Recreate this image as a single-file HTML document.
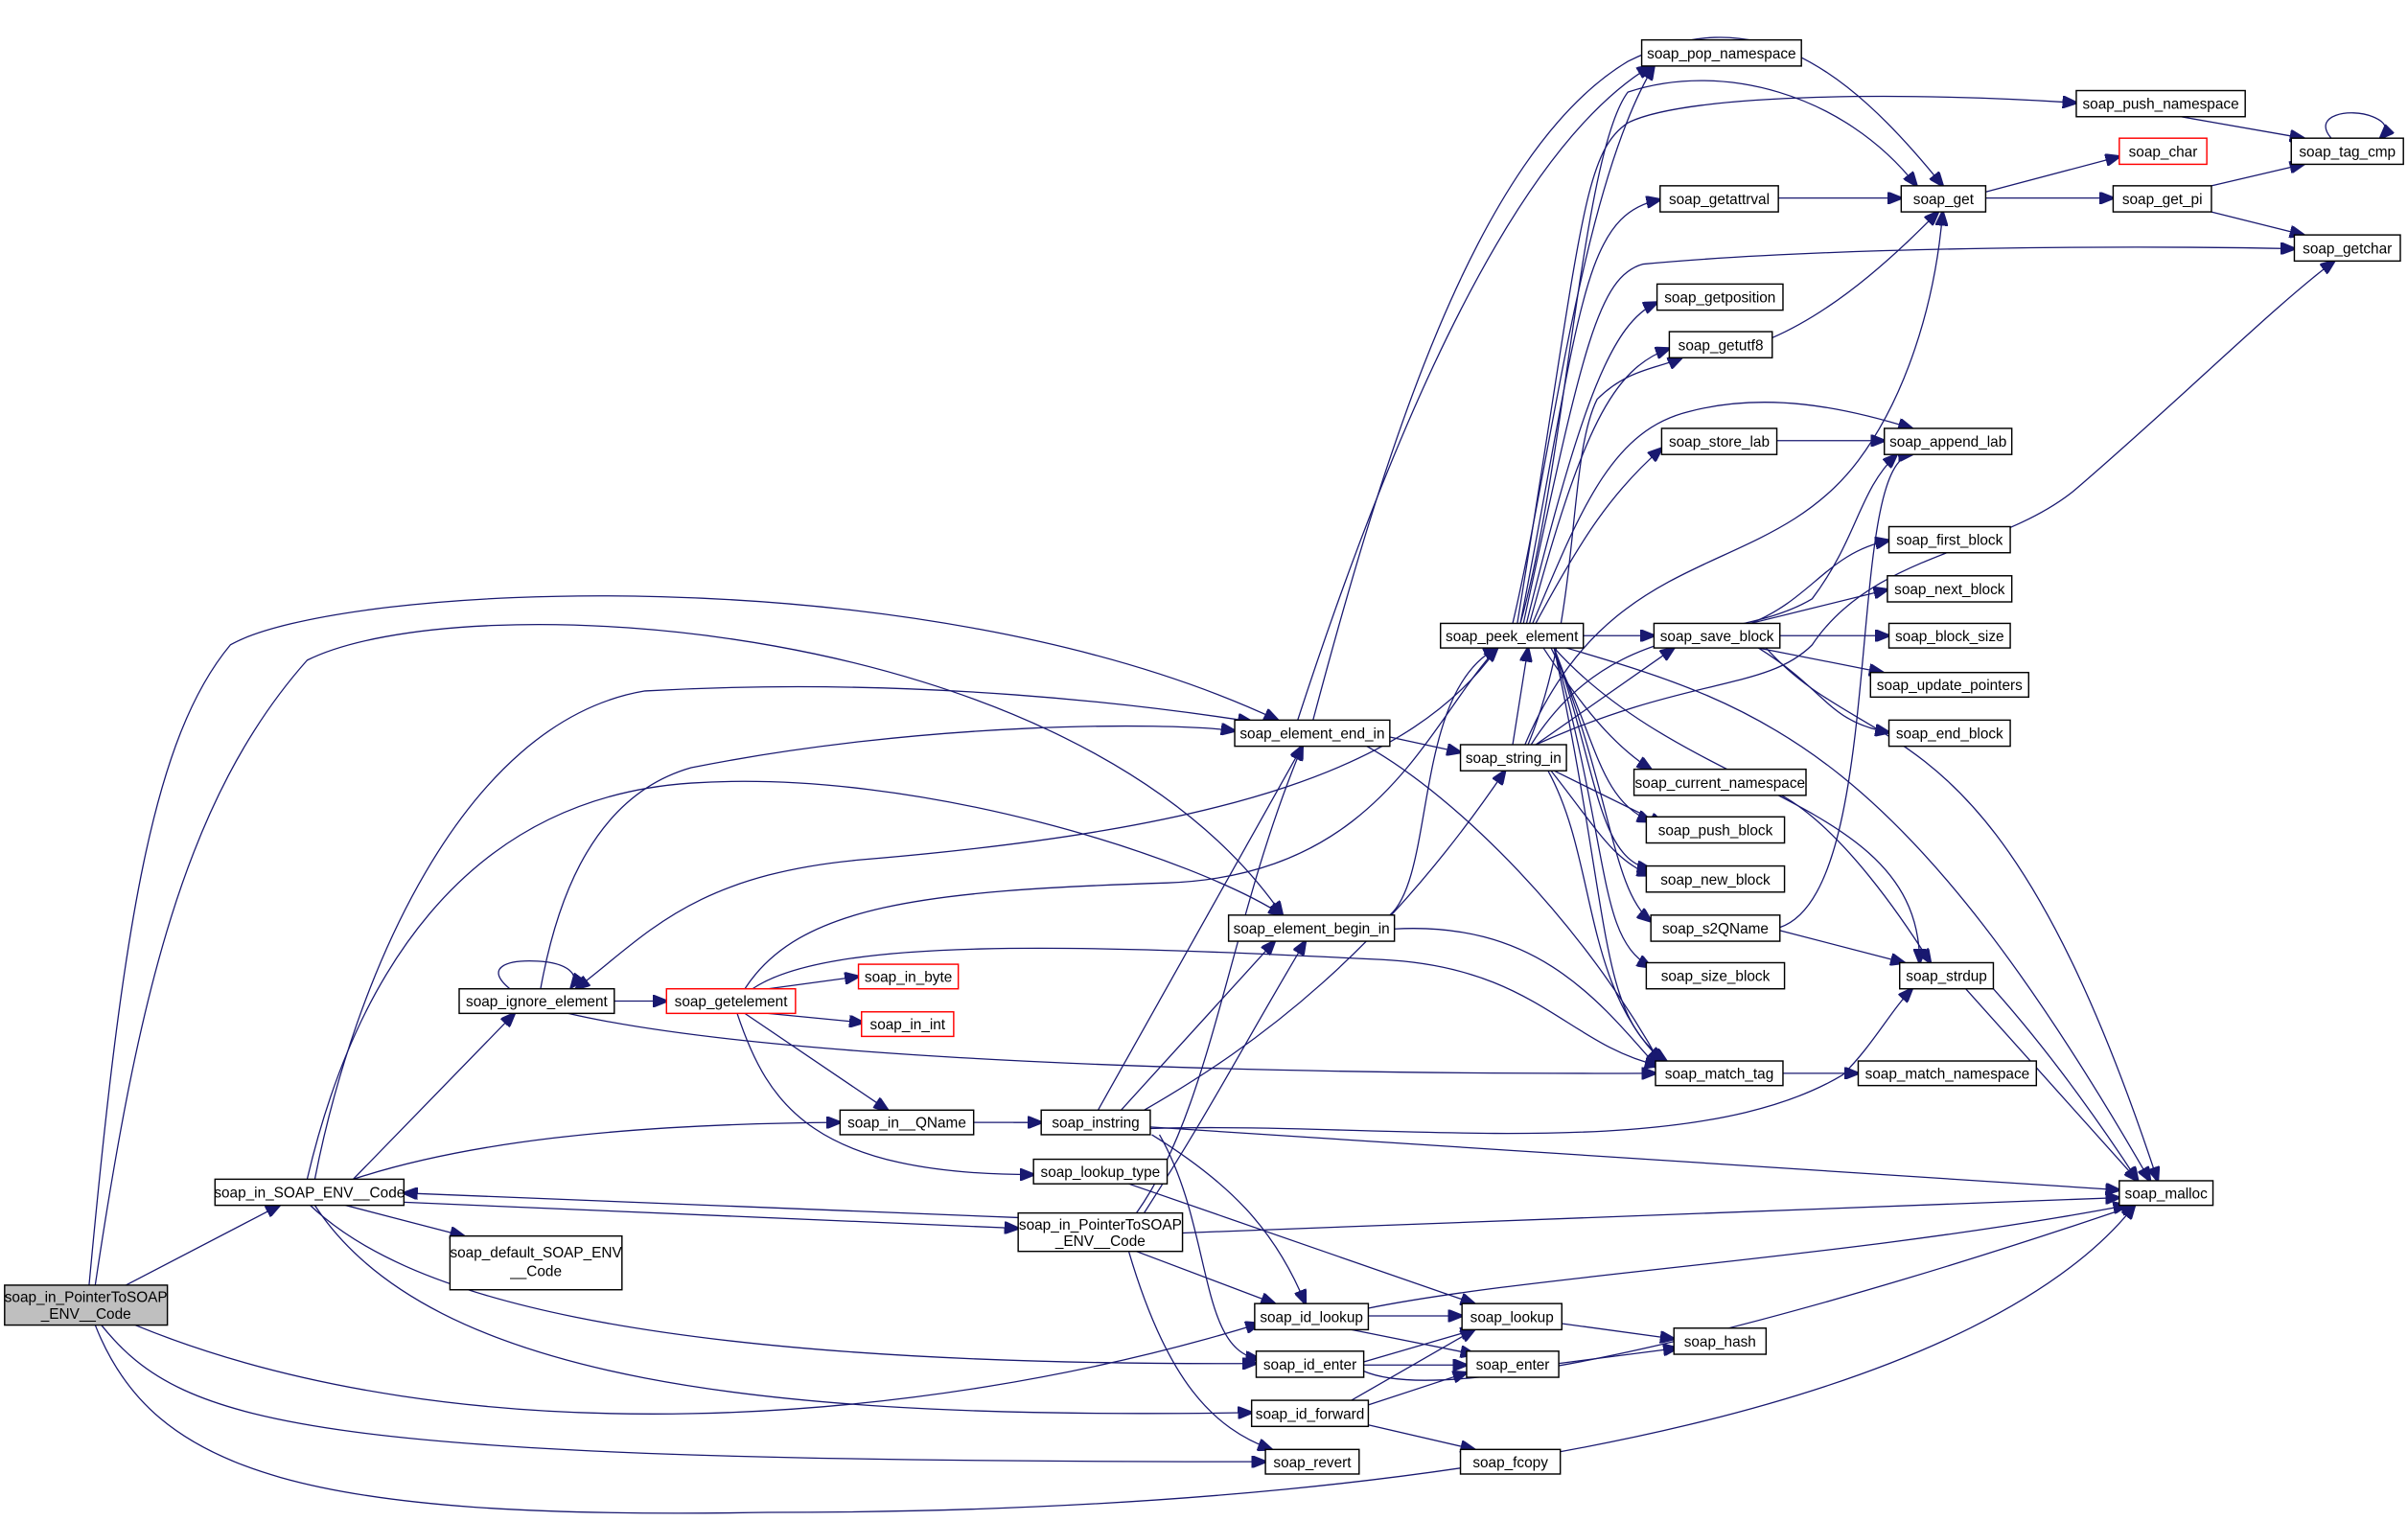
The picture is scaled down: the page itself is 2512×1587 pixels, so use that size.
<!DOCTYPE html>
<html><head><meta charset="utf-8"><style>
html,body{margin:0;padding:0;background:#fff;}
svg{display:block;}
text{font-family:"Liberation Sans","DejaVu Sans",sans-serif;font-size:9.6px;fill:#000;text-anchor:middle;}
.e{fill:none;stroke:#191970;stroke-width:0.8;marker-end:url(#a);}
.n{fill:#fff;stroke:#000;stroke-width:0.9;}
.r{fill:#fff;stroke:#f00;stroke-width:0.9;}
</style></head><body>
<svg width="2512" height="1587" viewBox="0 0 1568 990.6" preserveAspectRatio="none" xmlns="http://www.w3.org/2000/svg">
<defs><marker id="a" markerUnits="userSpaceOnUse" markerWidth="10" markerHeight="8" refX="9" refY="4" orient="auto"><path d="M0,0 L10,4 L0,8 z" fill="#191970" stroke="#191970"/></marker></defs>
<g>
<!-- main -->
<path class="e" d="M82,837 L182,785"/>
<path class="e" d="M58,837 C80,600 100,480 150,420 C220,380 600,360 832,469"/>
<path class="e" d="M62,837 C90,650 120,520 200,430 C300,380 700,400 835,596"/>
<path class="e" d="M88,863 C300,950 600,930 820,862"/>
<path class="e" d="M66,863 C120,930 200,952 824,952"/>
<path class="e" d="M62,863 C100,960 200,990 500,985 C1000,985 1300,900 1390,785"/>
<!-- S -->
<path class="e" d="M230,768 L335,660"/>
<path class="e" d="M230,768 C300,745 400,732 547,731"/>
<path class="e" d="M225,785 L302,805"/>
<path class="e" d="M200,768 C230,640 300,520 450,510 C600,500 780,560 835,596"/>
<path class="e" d="M205,768 C230,640 300,470 420,450 C600,440 750,460 815,470"/>
<path class="e" d="M263,783 L663,800"/>
<path class="e" d="M663,793 L263,777"/>
<path class="e" d="M202,785 C260,840 400,890 818,888"/>
<path class="e" d="M205,785 C280,900 500,925 815,920"/>
<!-- ignore_element -->
<path class="e" d="M332,644 C315,630 330,625 350,626 C370,627 378,635 372,643"/>
<path class="e" d="M400,652 L434,652"/>
<path class="e" d="M370,660 C500,690 800,700 1078,699"/>
<path class="e" d="M352,644 C360,600 380,520 450,500 C600,470 760,470 804,476"/>
<path class="e" d="M975,422 C920,500 800,540 560,560 C450,570 420,610 375,644"/>
<!-- getelement -->
<path class="e" d="M500,644 L559,636"/>
<path class="e" d="M500,660 L562,666"/>
<path class="e" d="M485,660 L578,723"/>
<path class="e" d="M480,660 C500,720 530,765 673,765"/>
<path class="e" d="M485,644 C520,590 600,580 760,575 C900,570 930,470 975,422"/>
<path class="e" d="M490,644 C540,610 700,615 900,625 C1000,630 1020,680 1080,694"/>
<!-- element_begin_in -->
<path class="e" d="M905,596 C935,570 920,450 975,422"/>
<path class="e" d="M908,605 C1000,600 1040,650 1080,696"/>
<!-- element_end_in -->
<path class="e" d="M905,480 L951,490"/>
<path class="e" d="M845,469 C900,300 980,100 1075,43"/>
<path class="e" d="M890,486 C950,520 1030,600 1082,694"/>
<path class="e" d="M855,469 C900,300 960,100 1060,40 C1140,0 1200,40 1265,121"/>
<!-- instring -->
<path class="e" d="M745,723 C820,680 900,620 980,502"/>
<path class="e" d="M730,723 L830,613"/>
<path class="e" d="M715,723 L848,486"/>
<path class="e" d="M749,735 C900,730 1100,760 1200,700 C1220,680 1230,660 1245,644"/>
<path class="e" d="M749,734 L1380,775"/>
<path class="e" d="M750,739 C800,770 830,800 850,849"/>
<path class="e" d="M755,739 C790,800 780,880 820,885"/>
<path class="e" d="M660,731 L678,731"/>
<path class="e" d="M634,731 L678,731"/>
<!-- PointerToSOAP2 -->
<path class="e" d="M740,790 C790,720 800,600 848,486"/>
<path class="e" d="M745,790 C790,720 810,680 850,613"/>
<path class="e" d="M740,815 L830,849"/>
<path class="e" d="M735,815 C760,900 790,930 828,944"/>
<path class="e" d="M770,803 L1380,780"/>
<!-- lookup_type etc -->
<path class="e" d="M735,771 L960,849"/>
<path class="e" d="M891,857 L952,857"/>
<path class="e" d="M891,852 C1000,830 1200,820 1385,785"/>
<path class="e" d="M880,866 L960,882"/>
<path class="e" d="M888,887 L960,866"/>
<path class="e" d="M888,889 L955,889"/>
<path class="e" d="M888,893 C950,920 1200,850 1390,785"/>
<path class="e" d="M880,912 L960,866"/>
<path class="e" d="M891,915 L955,894"/>
<path class="e" d="M891,928 L960,944"/>
<path class="e" d="M1017,862 L1090,872"/>
<path class="e" d="M1015,888 L1092,878"/>
<!-- string_in -->
<path class="e" d="M985,485 L995,422"/>
<path class="e" d="M1000,485 L1090,422"/>
<path class="e" d="M1012,502 L1083,537"/>
<path class="e" d="M1010,502 C1040,540 1050,560 1075,570"/>
<path class="e" d="M1008,502 C1040,560 1030,640 1082,691"/>
<path class="e" d="M995,485 C1030,400 1020,300 1040,260 C1060,240 1080,240 1095,233"/>
<path class="e" d="M993,485 C1050,350 1150,380 1210,300 C1240,260 1260,200 1265,138"/>
<path class="e" d="M997,485 C1050,400 1130,420 1180,390 C1210,350 1210,320 1235,296"/>
<path class="e" d="M1000,485 C1100,440 1150,450 1180,420 C1220,360 1300,360 1350,320 C1420,260 1480,200 1520,170"/>
<!-- peek_element -->
<path class="e" d="M985,406 C1010,300 1030,120 1077,43"/>
<path class="e" d="M988,406 C1030,150 1030,100 1060,80 C1100,60 1250,60 1352,67"/>
<path class="e" d="M990,406 C1020,300 1030,100 1060,60 C1120,40 1200,60 1248,121"/>
<path class="e" d="M990,406 C1030,200 1030,140 1081,130"/>
<path class="e" d="M992,406 C1030,230 1040,180 1070,172 C1200,160 1400,160 1494,162"/>
<path class="e" d="M994,406 C1030,260 1050,210 1079,197"/>
<path class="e" d="M996,406 C1030,280 1050,240 1087,227"/>
<path class="e" d="M998,406 C1030,330 1050,280 1100,268 C1150,255 1200,265 1245,279"/>
<path class="e" d="M1000,406 C1030,350 1050,320 1082,292"/>
<path class="e" d="M1031,414 L1077,414"/>
<path class="e" d="M1005,422 C1030,460 1050,485 1075,501"/>
<path class="e" d="M1010,422 C1040,480 1040,520 1075,535"/>
<path class="e" d="M1012,422 C1040,500 1040,560 1075,566"/>
<path class="e" d="M1012,422 C1050,520 1050,580 1075,600"/>
<path class="e" d="M1012,422 C1050,560 1040,610 1075,630"/>
<path class="e" d="M1012,422 C1050,600 1040,660 1085,691"/>
<path class="e" d="M1012,422 C1100,520 1250,520 1250,627"/>
<path class="e" d="M1020,422 C1150,460 1240,490 1400,769"/>
<!-- save_block -->
<path class="e" d="M1140,406 C1180,390 1190,360 1230,352"/>
<path class="e" d="M1140,406 L1229,384"/>
<path class="e" d="M1159,414 L1230,414"/>
<path class="e" d="M1145,422 L1226,438"/>
<path class="e" d="M1145,422 C1190,450 1190,470 1230,477"/>
<path class="e" d="M1150,422 C1220,500 1300,450 1405,769"/>
<!-- others -->
<path class="e" d="M1160,518 C1200,540 1240,600 1257,627"/>
<path class="e" d="M1159,606 L1240,627"/>
<path class="e" d="M1159,604 C1230,580 1200,300 1245,296"/>
<path class="e" d="M1161,699 L1210,699"/>
<path class="e" d="M1280,644 L1392,769"/>
<path class="e" d="M1157,287 L1227,287"/>
<path class="e" d="M1158,129 L1238,129"/>
<path class="e" d="M1154,220 C1200,200 1240,160 1262,138"/>
<path class="e" d="M1293,125 L1380,102"/>
<path class="e" d="M1293,129 L1376,129"/>
<path class="e" d="M1440,121 L1500,107"/>
<path class="e" d="M1440,138 L1500,153"/>
<path class="e" d="M1420,76 L1500,90"/>
<path class="e" d="M1518,90 C1505,75 1530,70 1545,76 C1555,80 1555,85 1550,90"/>
<path class="e" d="M1298,644 C1330,680 1360,720 1392,769"/>
</g>
<g>
<rect x="3" y="837" width="106" height="26" fill="#bfbfbf" stroke="#000" stroke-width="0.9"/>
<text x="56" y="848">soap_in_PointerToSOAP</text><text x="56" y="859">_ENV__Code</text>
<rect class="n" x="140" y="768" width="123" height="17"/><text x="201.5" y="780">soap_in_SOAP_ENV__Code</text>
<rect class="n" x="293" y="805" width="112" height="35"/><text x="349" y="819">soap_default_SOAP_ENV</text><text x="349" y="831">__Code</text>
<rect class="n" x="299" y="644" width="101" height="16"/><text x="349.5" y="655.5">soap_ignore_element</text>
<rect class="r" x="434" y="644" width="84" height="16"/><text x="476" y="655.5">soap_getelement</text>
<rect class="r" x="559" y="628" width="65" height="16"/><text x="591.5" y="639.5">soap_in_byte</text>
<rect class="r" x="561" y="659" width="60" height="16"/><text x="591" y="670.5">soap_in_int</text>
<rect class="n" x="547" y="723" width="87" height="16"/><text x="590.5" y="734.5">soap_in__QName</text>
<rect class="n" x="678" y="723" width="71" height="16"/><text x="713.5" y="734.5">soap_instring</text>
<rect class="n" x="673" y="755" width="87" height="16"/><text x="716.5" y="766.5">soap_lookup_type</text>
<rect class="n" x="663" y="790" width="107" height="25"/><text x="716.5" y="801">soap_in_PointerToSOAP</text><text x="716.5" y="811.5">_ENV__Code</text>
<rect class="n" x="804" y="469" width="101" height="17"/><text x="854.5" y="481">soap_element_end_in</text>
<rect class="n" x="800" y="596" width="108" height="17"/><text x="854" y="608">soap_element_begin_in</text>
<rect class="n" x="951" y="485" width="69" height="17"/><text x="985.5" y="497">soap_string_in</text>
<rect class="n" x="938" y="406" width="93" height="16"/><text x="984.5" y="417.5">soap_peek_element</text>
<rect class="n" x="817" y="849" width="74" height="17"/><text x="854" y="861">soap_id_lookup</text>
<rect class="n" x="818" y="880" width="70" height="17"/><text x="853" y="892">soap_id_enter</text>
<rect class="n" x="815" y="912" width="76" height="17"/><text x="853" y="924">soap_id_forward</text>
<rect class="n" x="824" y="944" width="61" height="16"/><text x="854.5" y="955.5">soap_revert</text>
<rect class="n" x="952" y="849" width="65" height="17"/><text x="984.5" y="861">soap_lookup</text>
<rect class="n" x="955" y="880" width="60" height="17"/><text x="985" y="892">soap_enter</text>
<rect class="n" x="951" y="944" width="65" height="16"/><text x="983.5" y="955.5">soap_fcopy</text>
<rect class="n" x="1090" y="865" width="60" height="17"/><text x="1120" y="877">soap_hash</text>
<rect class="n" x="1069" y="26" width="104" height="17"/><text x="1121" y="38">soap_pop_namespace</text>
<rect class="n" x="1081" y="121" width="77" height="17"/><text x="1119.5" y="133">soap_getattrval</text>
<rect class="n" x="1079" y="185" width="82" height="17"/><text x="1120" y="197">soap_getposition</text>
<rect class="n" x="1087" y="216" width="67" height="17"/><text x="1120.5" y="228">soap_getutf8</text>
<rect class="n" x="1082" y="279" width="75" height="17"/><text x="1119.5" y="291">soap_store_lab</text>
<rect class="n" x="1077" y="406" width="82" height="16"/><text x="1118" y="417.5">soap_save_block</text>
<rect class="n" x="1064" y="501" width="112" height="17"/><text x="1120" y="513">soap_current_namespace</text>
<rect class="n" x="1072" y="532" width="90" height="17"/><text x="1117" y="544">soap_push_block</text>
<rect class="n" x="1072" y="564" width="90" height="17"/><text x="1117" y="576">soap_new_block</text>
<rect class="n" x="1075" y="596" width="84" height="17"/><text x="1117" y="608">soap_s2QName</text>
<rect class="n" x="1072" y="627" width="90" height="17"/><text x="1117" y="639">soap_size_block</text>
<rect class="n" x="1078" y="691" width="83" height="16"/><text x="1119.5" y="702.5">soap_match_tag</text>
<rect class="n" x="1238" y="121" width="55" height="17"/><text x="1265.5" y="133">soap_get</text>
<rect class="n" x="1227" y="279" width="83" height="17"/><text x="1268.5" y="291">soap_append_lab</text>
<rect class="n" x="1352" y="59" width="110" height="17"/><text x="1407" y="71">soap_push_namespace</text>
<rect class="r" x="1380" y="90" width="57" height="17"/><text x="1408.5" y="102">soap_char</text>
<rect class="n" x="1376" y="121" width="64" height="17"/><text x="1408" y="133">soap_get_pi</text>
<rect class="n" x="1492" y="90" width="73" height="17"/><text x="1528.5" y="102">soap_tag_cmp</text>
<rect class="n" x="1494" y="153" width="69" height="17"/><text x="1528.5" y="165">soap_getchar</text>
<rect class="n" x="1230" y="343" width="79" height="17"/><text x="1269.5" y="355">soap_first_block</text>
<rect class="n" x="1229" y="375" width="81" height="17"/><text x="1269.5" y="387">soap_next_block</text>
<rect class="n" x="1230" y="406" width="79" height="16"/><text x="1269.5" y="417.5">soap_block_size</text>
<rect class="n" x="1218" y="438" width="103" height="16"/><text x="1269.5" y="449.5">soap_update_pointers</text>
<rect class="n" x="1230" y="469" width="79" height="17"/><text x="1269.5" y="481">soap_end_block</text>
<rect class="n" x="1237" y="627" width="61" height="17"/><text x="1267.5" y="639">soap_strdup</text>
<rect class="n" x="1210" y="691" width="116" height="16"/><text x="1268" y="702.5">soap_match_namespace</text>
<rect class="n" x="1380" y="769" width="61" height="16"/><text x="1410.5" y="780.5">soap_malloc</text>
</g>
</svg>
</body></html>
